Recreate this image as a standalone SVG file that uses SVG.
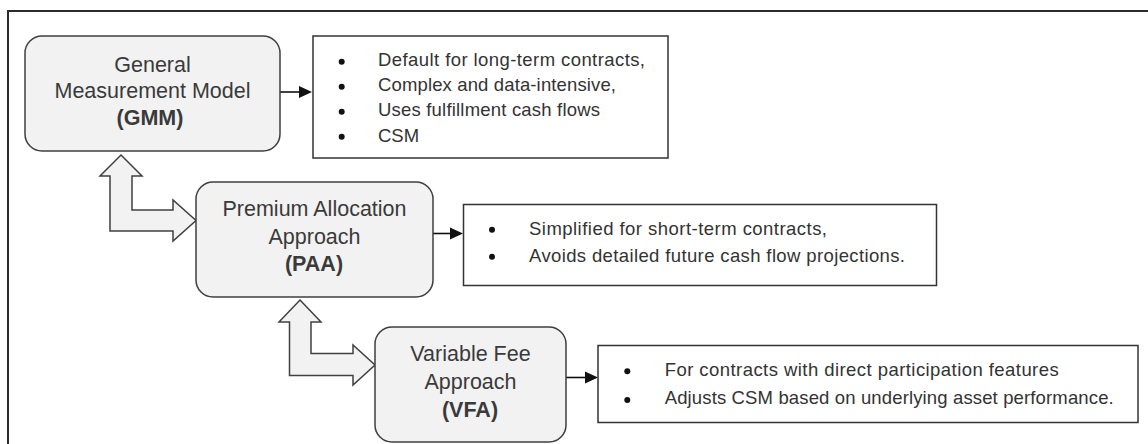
<svg xmlns="http://www.w3.org/2000/svg" width="1148" height="444" viewBox="0 0 1148 444">
<style>
.node{fill:#f2f2f2;stroke:#3f3f3f;stroke-width:1.5}
.box{fill:#ffffff;stroke:#333333;stroke-width:1.5}
.nt{font-family:"Liberation Sans",Arial,sans-serif;font-size:21.5px;fill:#3a3a3a;text-anchor:middle}
.nb{font-weight:bold}
.bt{font-family:"Liberation Sans",Arial,sans-serif;font-size:18.5px;fill:#333333}
.dot{fill:#111111}
.conn{stroke:#111111;stroke-width:1.6;fill:none}
.blk{fill:#f2f2f2;stroke:#404040;stroke-width:1.5;stroke-linejoin:miter}
.frame{stroke:#2b2b2b;stroke-width:2;fill:none}
</style>
<defs>
<marker id="ah" markerWidth="8" markerHeight="8" refX="7.5" refY="4" orient="auto" markerUnits="userSpaceOnUse" viewBox="0 0 8 8">
<path d="M0,0 L8,4 L0,8 Z" fill="#111111"/>
</marker>
</defs>
<rect width="1148" height="444" fill="#ffffff"/>
<path class="frame" d="M8,444 L8,11 L1148,11"/>

<g id="connectors">
<path class="blk" d="M121,155 L142,176 L132,176 L132,210 L173,210 L173,200 L196,220.5 L173,241 L173,231 L110,231 L110,176 L100,176 Z"/>
<path class="blk" d="M300,300 L321,322 L311,322 L311,353.5 L353,353.5 L353,345 L375,365 L353,385 L353,375.5 L289.5,375.5 L289.5,322 L279,322 Z"/>
<path d="M280,92 L300,92" class="conn"/><path d="M299,86 L312,92 L299,98 Z" fill="#111111"/>
<path d="M433,233.5 L451,233.5" class="conn"/><path d="M450,227.5 L463,233.5 L450,239.5 Z" fill="#111111"/>
<path d="M566,377.5 L585,377.5" class="conn"/><path d="M585,371.5 L598,377.5 L585,383.5 Z" fill="#111111"/>
</g>

<g id="gmm">
<rect class="node" x="25" y="36" width="255" height="115" rx="17"/>
<text class="nt" x="152.5" y="72">General</text>
<text class="nt" x="152.5" y="98">Measurement Model</text>
<text class="nt nb" x="150" y="124.5">(GMM)</text>
</g>

<g id="gmm-notes">
<rect class="box" x="313" y="36" width="355" height="122"/>
<circle class="dot" cx="341.7" cy="61.7" r="3"/>
<circle class="dot" cx="341.7" cy="86.7" r="3"/>
<circle class="dot" cx="341.7" cy="111.7" r="3"/>
<circle class="dot" cx="341.7" cy="136.7" r="3"/>
<text class="bt" x="378" y="66" textLength="267">Default for long-term contracts,</text>
<text class="bt" x="378" y="91" textLength="238">Complex and data-intensive,</text>
<text class="bt" x="378" y="116" textLength="222">Uses fulfillment cash flows</text>
<text class="bt" x="378" y="141.5">CSM</text>
</g>

<g id="paa">
<rect class="node" x="196" y="182" width="237" height="115" rx="17"/>
<text class="nt" x="314.5" y="216">Premium Allocation</text>
<text class="nt" x="314.5" y="243.5">Approach</text>
<text class="nt nb" x="314" y="271">(PAA)</text>
</g>

<g id="paa-notes">
<rect class="box" x="463.5" y="204.5" width="473" height="81"/>
<circle class="dot" cx="492" cy="229.8" r="3"/>
<circle class="dot" cx="492" cy="256.8" r="3"/>
<text class="bt" x="529" y="234.5" textLength="298">Simplified for short-term contracts,</text>
<text class="bt" x="529" y="261.5" textLength="376">Avoids detailed future cash flow projections.</text>
</g>

<g id="vfa">
<rect class="node" x="375" y="327" width="191" height="115" rx="17"/>
<text class="nt" x="470.5" y="361">Variable Fee</text>
<text class="nt" x="470.5" y="389">Approach</text>
<text class="nt nb" x="470" y="417">(VFA)</text>
</g>

<g id="vfa-notes">
<rect class="box" x="598" y="345.5" width="540" height="77"/>
<circle class="dot" cx="627.3" cy="371.2" r="3"/>
<circle class="dot" cx="627.3" cy="399.9" r="3"/>
<text class="bt" x="664.7" y="375.5" textLength="394">For contracts with direct participation features</text>
<text class="bt" x="664.7" y="404.2" textLength="449">Adjusts CSM based on underlying asset performance.</text>
</g>
</svg>
